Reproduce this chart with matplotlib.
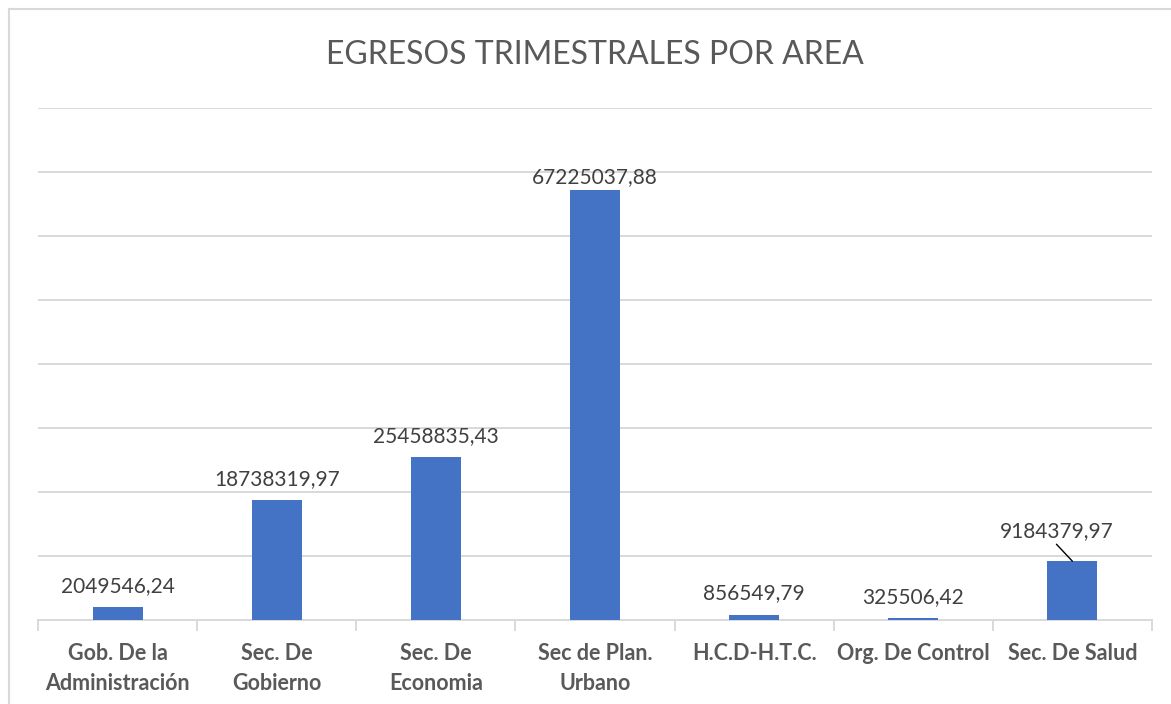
import matplotlib
matplotlib.use("Agg")
import matplotlib.pyplot as plt
from matplotlib.lines import Line2D
import numpy as np

categories = ["Gob. De la\nAdministración", "Sec. De\nGobierno", "Sec. De\nEconomia",
              "Sec de Plan.\nUrbano", "H.C.D-H.T.C.", "Org. De Control", "Sec. De Salud"]
values = [2049546.24, 18738319.97, 25458835.43, 67225037.88, 856549.79, 325506.42, 9184379.97]
labels = ["2049546,24", "18738319,97", "25458835,43", "67225037,88", "856549,79", "325506,42", "9184379,97"]
title = "EGRESOS TRIMESTRALES POR AREA"

plt.rcParams['font.family'] = ['Lato', 'DejaVu Sans']
W, H = 1171, 704
fig = plt.figure(figsize=(W/100, H/100), dpi=100)
ax = fig.add_axes([38/W, 1-620/H, (1152-38)/W, (620-108)/H])

x = np.arange(len(categories))
bar_color = "#4472C4"
grid_c = "#D9D9D9"
ax.bar(x, values, width=0.314, color=bar_color, zorder=3)
ax.set_xlim(-0.5, len(categories)-0.5)
ax.set_ylim(0, 80e6)
ax.set_yticks(np.arange(0, 80e6+1, 10e6))
ax.yaxis.grid(True, color=grid_c, lw=1.4, zorder=0)
ax.tick_params(axis='y', length=0, labelleft=False)
for s in ['top', 'right', 'left']:
    ax.spines[s].set_visible(False)
ax.spines['bottom'].set_color(grid_c)
ax.spines['bottom'].set_linewidth(1.4)

ax.set_xticks(x)
ax.set_xticklabels(categories, fontsize=15.5, fontweight='bold', color="#595959", linespacing=1.55)
ax.tick_params(axis='x', length=0, pad=16.5)
ax.set_xticks(np.arange(-0.5, len(categories)), minor=True)
ax.tick_params(axis='x', which='minor', length=8, width=1.4, color=grid_c)

offsets = [(0, 21), (0, 21), (0, 21), (0, 13), (0, 21), (0, 21), (-16, 30)]
for i, (v, lab) in enumerate(zip(values, labels)):
    dx, dy = offsets[i]
    ax.annotate(lab, xy=(x[i], v), xytext=(dx, dy), textcoords='offset pixels',
                ha='center', va='center', fontsize=15, color="#404040", zorder=5)

# leader line for the moved label
ax.annotate("", xy=(x[6], values[6]), xytext=(-16, 17), textcoords='offset pixels',
            arrowprops=dict(arrowstyle='-', color='black', lw=1, shrinkA=0, shrinkB=0))

fig.text(595/W, 1-55/H, title, ha='center', va='center', fontsize=23,
         color="#595959", fontweight='normal')

# chart border
fig.add_artist(Line2D([9/W, 9/W], [0, 1-9/H], color=grid_c, lw=1.5, transform=fig.transFigure))
fig.add_artist(Line2D([9/W, 1], [1-9/H, 1-9/H], color=grid_c, lw=1.5, transform=fig.transFigure))

fig.savefig("out.png", dpi=100)
